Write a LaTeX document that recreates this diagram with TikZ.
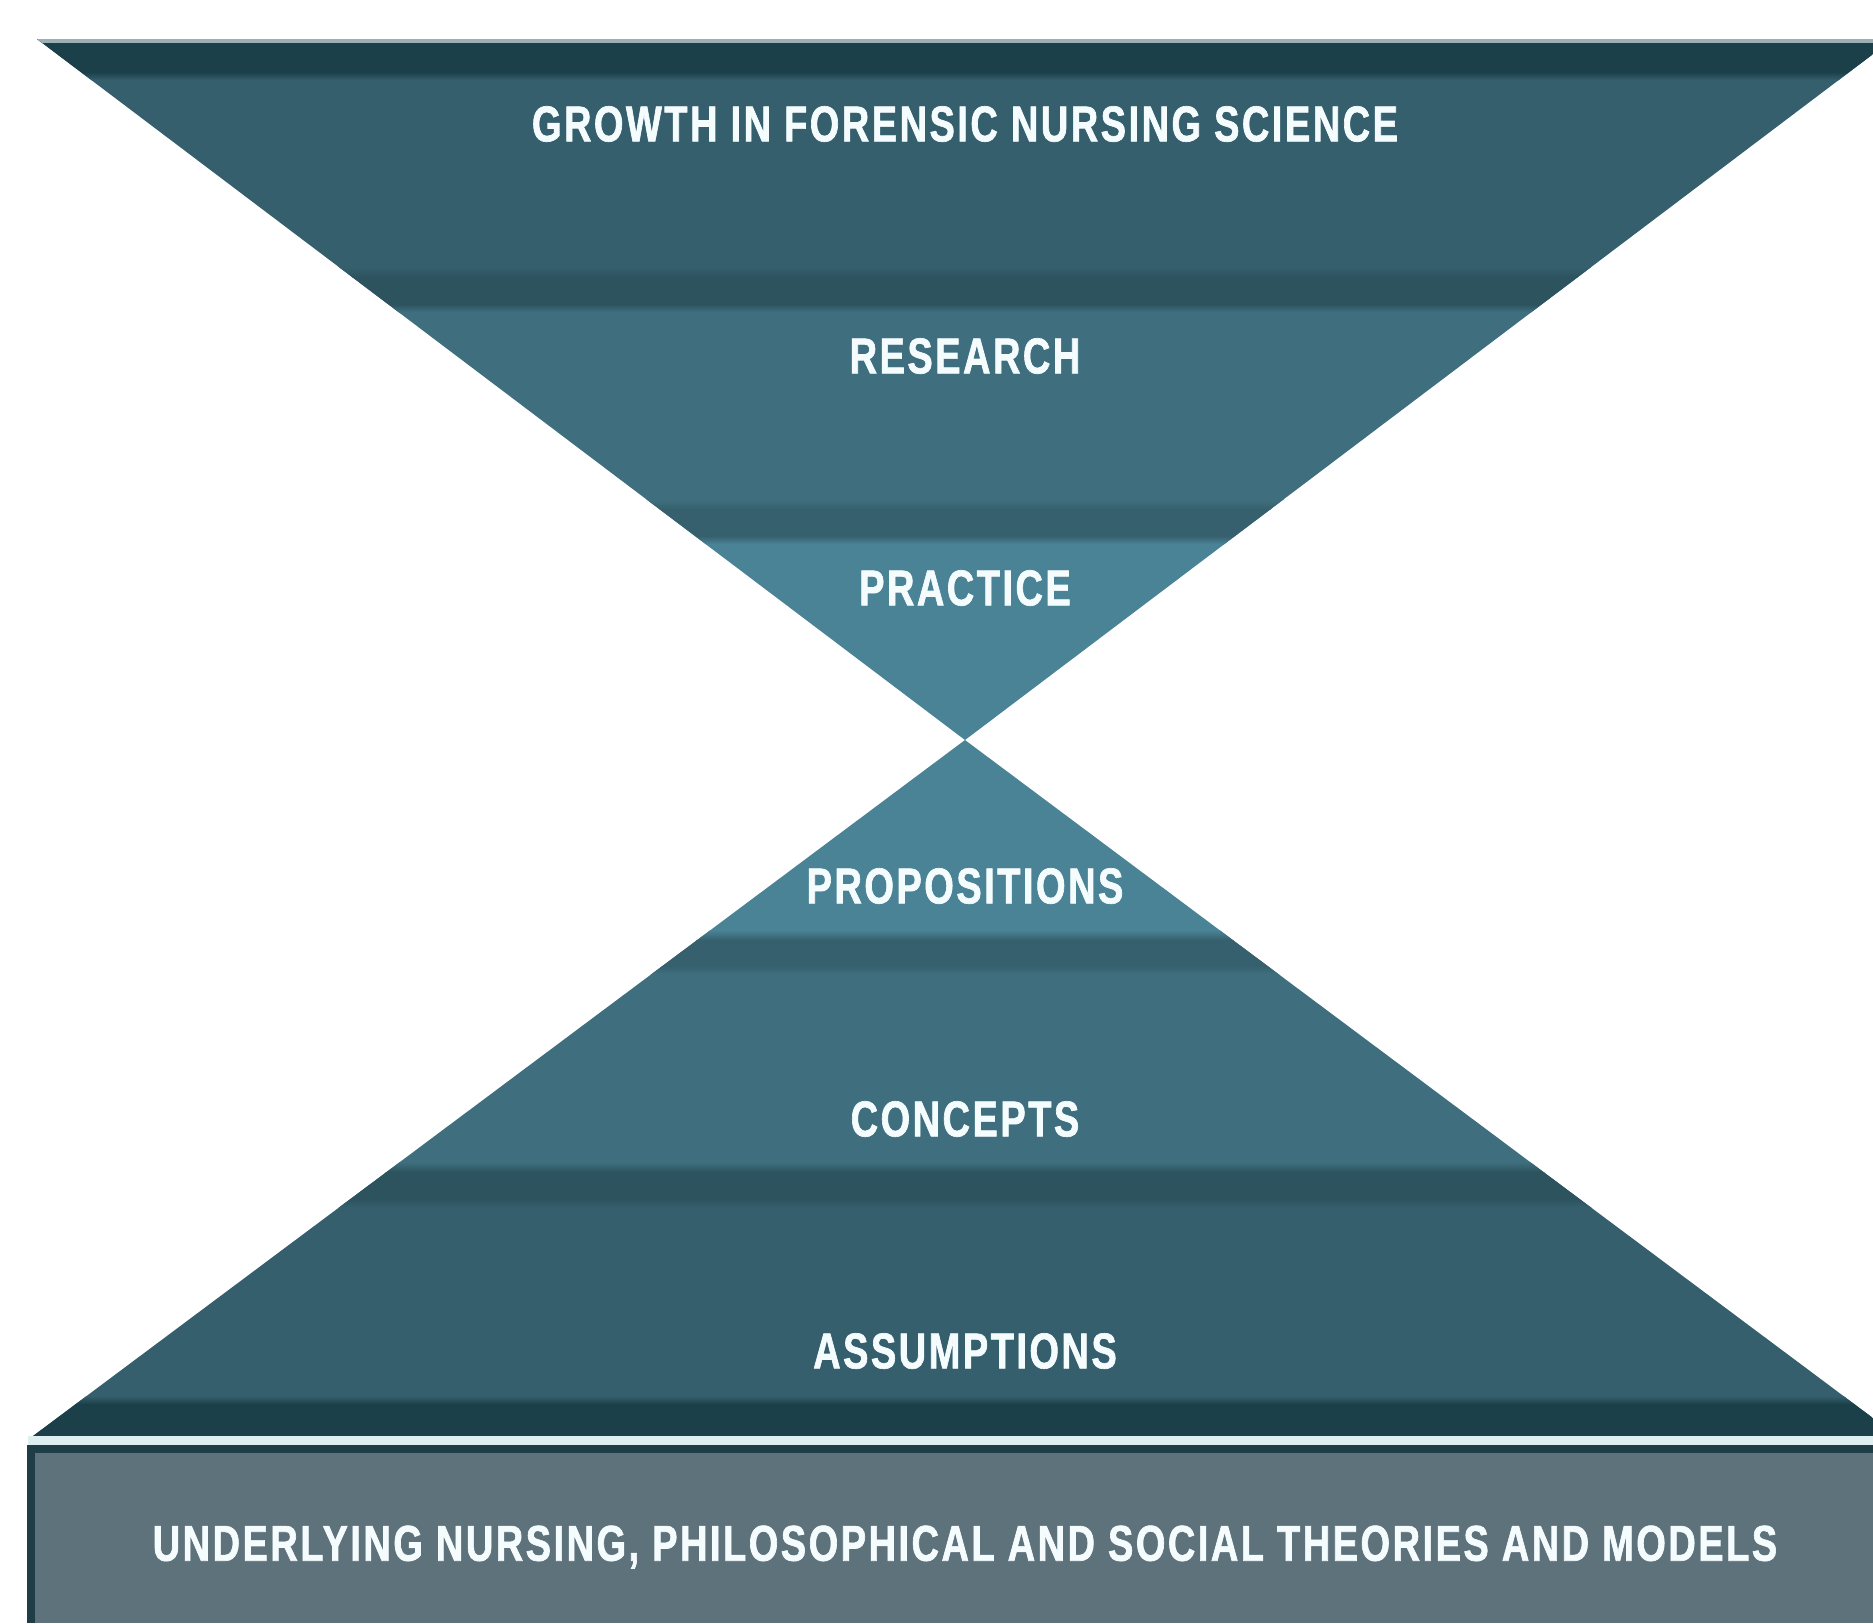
\documentclass[tikz,border=0pt]{standalone}
\usepackage{fontspec}
\setmainfont{Liberation Sans}
\newfontfamily\lblfont[FakeStretch=0.755,LetterSpace=5,FakeBold=1.3]{Liberation Sans Bold}
\usetikzlibrary{calc}
\definecolor{bandA}{HTML}{355F6D}
\definecolor{bandB}{HTML}{3F6F7E}
\definecolor{bandC}{HTML}{4A8396}
\definecolor{stripTop}{HTML}{1B4049}
\definecolor{stripAB}{HTML}{2C535E}
\definecolor{stripBC}{HTML}{36606E}
\definecolor{boxgray}{HTML}{5E727C}
\definecolor{boxedge}{HTML}{1F3D47}
\definecolor{gapline}{HTML}{DDEFF0}
\tikzset{lbl/.style={text=white!96!cyan, font=\lblfont\fontsize{14.3}{16}\selectfont, inner sep=0pt}}
% soft dark strip between two bands: #1 upper colour, #2 strip colour, #3 lower colour, #4 top y, #5 bottom y
\newcommand{\bandstrip}[5]{%
	\shade[top color=#1, bottom color=#2] (0,#4-6) rectangle (1873,#4+4);
	\fill[#2] (0,#4+4) rectangle (1873,#5-4);
	\shade[top color=#2, bottom color=#3] (0,#5-4) rectangle (1873,#5+4);
}

\begin{document}
\begin{tikzpicture}[x=0.01cm, y=-0.01cm]
	\useasboundingbox (0,0) rectangle (1873,1623);
	\clip (0,0) rectangle (1873,1623);

	\coordinate (tl) at (37,39);
	\coordinate (tr) at (1893,39);
	\coordinate (apex) at (965,740);
	\coordinate (bl) at (33,1436);
	\coordinate (br) at (1897,1436);

	% upper funnel
	\begin{scope}
		\clip (tl) -- (tr) -- (apex) -- cycle;
		\fill[bandA] (0,39) rectangle (1873,300);
		\fill[bandB] (0,300) rectangle (1873,520);
		\fill[bandC] (0,520) rectangle (1873,740);
		\fill[stripTop] (0,39) rectangle (1873,72);
		\shade[top color=stripTop, bottom color=bandA] (0,72) rectangle (1873,80);
		\fill[white!50!bandA] (0,39) rectangle (1873,43);
		\bandstrip{bandA}{stripAB}{bandB}{273}{308}
		\bandstrip{bandB}{stripBC}{bandC}{505}{540}
	\end{scope}

	% lower funnel
	\begin{scope}
		\clip (apex) -- (br) -- (bl) -- cycle;
		\fill[bandC] (0,740) rectangle (1873,950);
		\fill[bandB] (0,950) rectangle (1873,1185);
		\fill[bandA] (0,1185) rectangle (1873,1436);
		\bandstrip{bandC}{stripBC}{bandB}{936}{970}
		\bandstrip{bandB}{stripAB}{bandA}{1168}{1203}
		\shade[top color=bandA, bottom color=stripTop] (0,1396) rectangle (1873,1404);
		\fill[stripTop] (0,1404) rectangle (1873,1436);
	\end{scope}

	% base
	\fill[gapline] (28,1436) rectangle (1873,1446);
	\fill[boxgray] (28,1446) rectangle (1873,1623);
	\draw[boxedge, line width=2.2pt] (31,1623) -- (31,1449) -- (1873,1449);

	\node[lbl] (growth) at (965,124) {GROWTH IN FORENSIC NURSING SCIENCE};
	\node[lbl] (research) at (965,356) {RESEARCH};
	\node[lbl] (practice) at (965,588) {PRACTICE};
	\node[lbl] (props) at (965,886) {PROPOSITIONS};
	\node[lbl] (concepts) at (965,1119) {CONCEPTS};
	\node[lbl] (assume) at (965,1351) {ASSUMPTIONS};
	\node[lbl] (theories) at (965,1547) {UNDERLYING NURSING, PHILOSOPHICAL AND SOCIAL THEORIES AND MODELS};
\end{tikzpicture}
\end{document}
